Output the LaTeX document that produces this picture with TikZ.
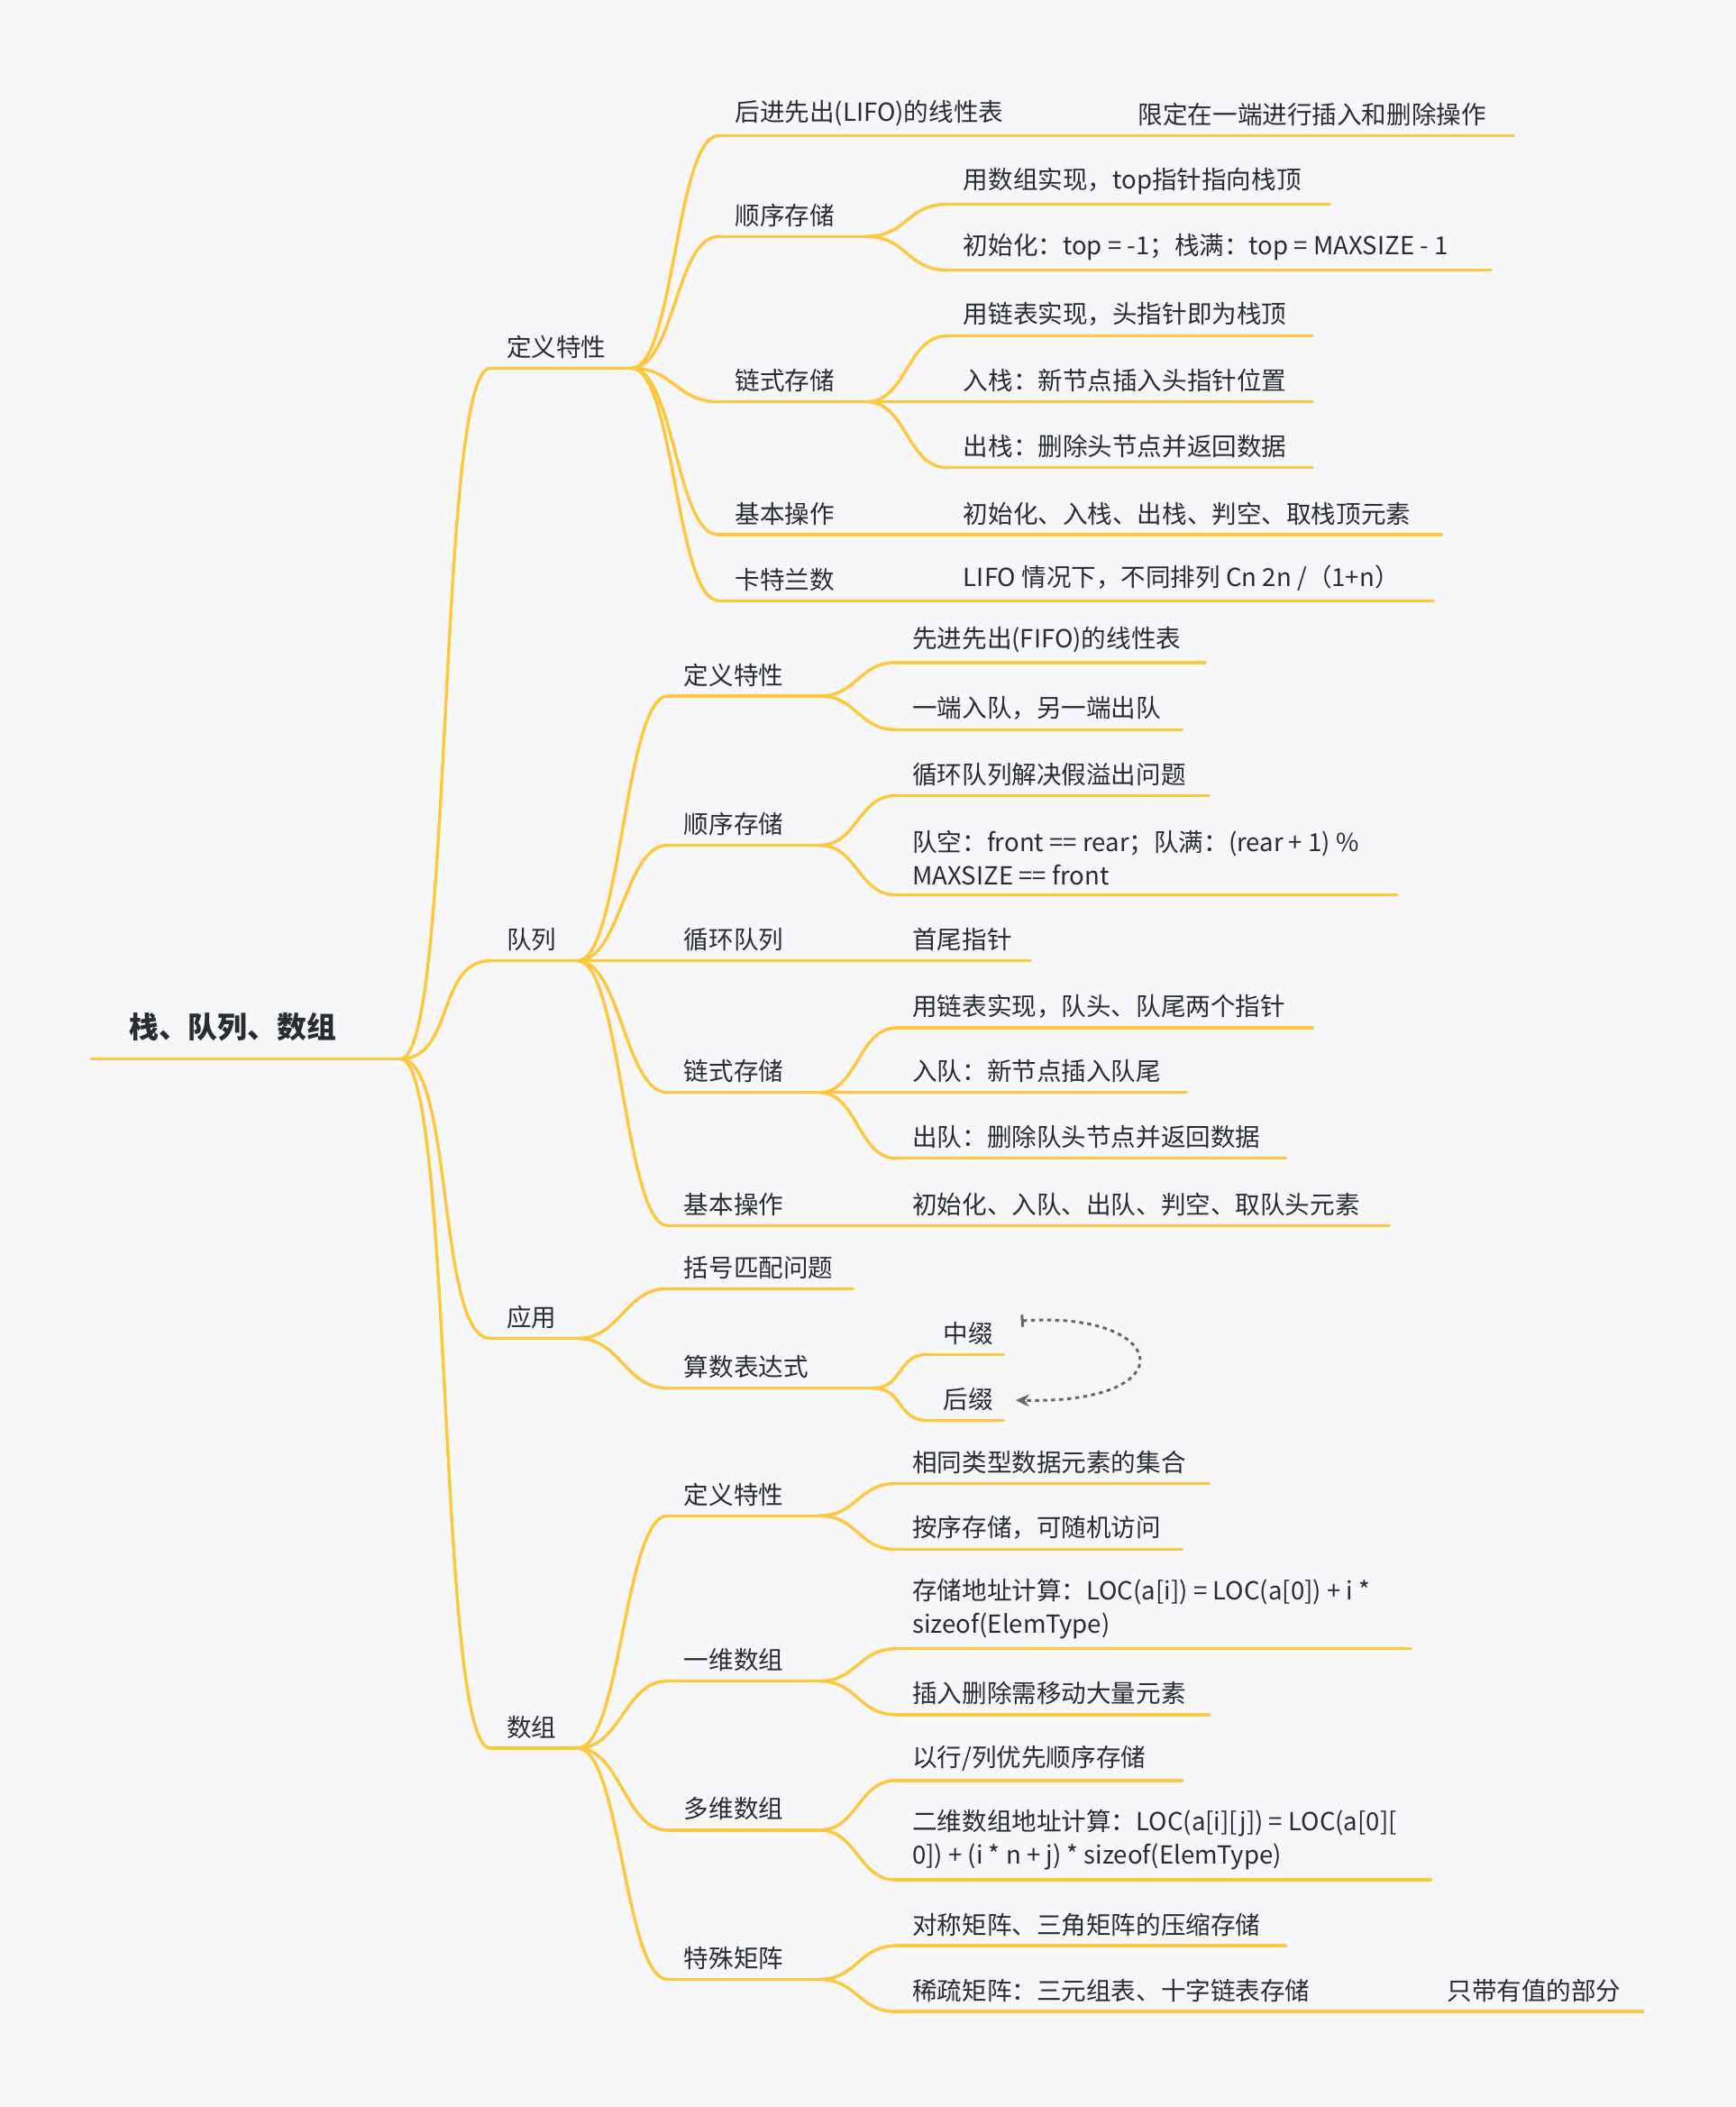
\documentclass[tikz,border=0pt]{standalone}
\usepackage{fontspec}
\setmainfont{Noto Sans CJK SC}
\usetikzlibrary{arrows.meta}
\definecolor{bg}{RGB}{247,247,249}
\definecolor{linec}{RGB}{255,199,60}
\definecolor{txtc}{RGB}{40,44,52}
\tikzset{ln/.style={draw=linec,line width=2.3pt,line cap=round},
  txt/.style={inner sep=0pt,text=txtc,font=\fontsize{18.5}{25}\selectfont,align=left}}
\newcommand\leaf[5]{%
  \coordinate (#1-s) at (#2,#4); \coordinate (#1-e) at (#3,#4);
  \draw[ln] (#1-s)--(#1-e);
  \node[txt,anchor=south west] (#1) at (#2+12,#4-7) {#5};}
\newcommand\con[3]{\draw[ln] (#1-e) .. controls +(#3,0) and +(-#3,0) .. (#2-s);}
\begin{document}
\begin{tikzpicture}[x=1pt,y=-1pt]
\fill[bg] (0,0) rectangle (1292,1568);
\useasboundingbox (0,0) rectangle (1292,1568);
% root
\coordinate (r-s) at (68,788); \coordinate (r-e) at (298,788);
\draw[ln] (r-s)--(r-e);
\node[txt,anchor=south west,font=\fontsize{22}{26}\selectfont\bfseries] (r) at (96,775) {栈、队列、数组};
% level 1
\leaf{a}{365}{470}{274}{定义特性}
\leaf{b}{365}{430}{715}{队列}
\leaf{c}{365}{430}{996}{应用}
\leaf{d}{365}{430}{1301}{数组}
\foreach \n in {a,b,c,d}{\con{r}{\n}{40}}
% stack
\leaf{a1}{535}{835}{101}{后进先出(LIFO)的线性表}
\leaf{a1x}{835}{1127}{101}{限定在一端进行插入和删除操作}
\leaf{a2}{535}{645}{176}{顺序存储}
\leaf{a21}{705}{990}{152}{用数组实现，top指针指向栈顶}
\leaf{a22}{705}{1110}{201}{初始化：top = -1；栈满：top = MAXSIZE - 1}
\leaf{a3}{535}{645}{299}{链式存储}
\leaf{a31}{705}{977}{250}{用链表实现，头指针即为栈顶}
\leaf{a32}{705}{977}{299}{入栈：新节点插入头指针位置}
\leaf{a33}{705}{977}{348}{出栈：删除头节点并返回数据}
\leaf{a4}{535}{705}{398}{基本操作}
\leaf{a41}{705}{1073}{398}{初始化、入栈、出栈、判空、取栈顶元素}
\leaf{a5}{535}{705}{447}{卡特兰数}
\leaf{a51}{705}{1067}{447}{LIFO 情况下，不同排列 Cn 2n /（1+n）}
\foreach \n in {a1,a2,a3,a4,a5}{\con{a}{\n}{32}}
\con{a2}{a21}{30}\con{a2}{a22}{30}
\con{a3}{a31}{30}\con{a3}{a32}{30}\con{a3}{a33}{30}
% queue
\leaf{b1}{497}{610}{518}{定义特性}
\leaf{b11}{667}{897}{493}{先进先出(FIFO)的线性表}
\leaf{b12}{667}{880}{543}{一端入队，另一端出队}
\leaf{b2}{497}{610}{629}{顺序存储}
\leaf{b21}{667}{900}{592}{循环队列解决假溢出问题}
\leaf{b22}{667}{1040}{666}{队空：front == rear；队满：(rear + 1) \%\\MAXSIZE == front}
\leaf{b3}{497}{667}{715}{循环队列}
\leaf{b31}{667}{767}{715}{首尾指针}
\leaf{b4}{497}{610}{813}{链式存储}
\leaf{b41}{667}{977}{765}{用链表实现，队头、队尾两个指针}
\leaf{b42}{667}{883}{813}{入队：新节点插入队尾}
\leaf{b43}{667}{957}{862}{出队：删除队头节点并返回数据}
\leaf{b5}{497}{667}{912}{基本操作}
\leaf{b51}{667}{1034}{912}{初始化、入队、出队、判空、取队头元素}
\foreach \n in {b1,b2,b3,b4,b5}{\con{b}{\n}{32}}
\con{b1}{b11}{28}\con{b1}{b12}{28}
\con{b2}{b21}{28}\con{b2}{b22}{28}
\con{b4}{b41}{28}\con{b4}{b42}{28}\con{b4}{b43}{28}
% application
\leaf{c1}{497}{635}{959}{括号匹配问题}
\leaf{c2}{497}{650}{1033}{算数表达式}
\leaf{c21}{690}{747}{1008}{中缀}
\leaf{c22}{690}{747}{1057}{后缀}
\con{c}{c1}{32}\con{c}{c2}{32}
\con{c2}{c21}{22}\con{c2}{c22}{22}
\coordinate (ar1) at (760,983); \coordinate (ar2) at (756,1042);
\draw[gray!80!black,line width=2pt,dash pattern=on 3pt off 3pt,{Bar[width=9pt]}-{Stealth[length=10pt,width=9pt]}]
  (ar1) .. controls (870,975) and (885,1045) .. (ar2);
% array
\leaf{d1}{497}{610}{1128}{定义特性}
\leaf{d11}{667}{900}{1104}{相同类型数据元素的集合}
\leaf{d12}{667}{880}{1153}{按序存储，可随机访问}
\leaf{d2}{497}{610}{1251}{一维数组}
\leaf{d21}{667}{1050}{1227}{存储地址计算：LOC(a[i]) = LOC(a[0]) + i *\\sizeof(ElemType)}
\leaf{d22}{667}{900}{1276}{插入删除需移动大量元素}
\leaf{d3}{497}{610}{1362}{多维数组}
\leaf{d31}{667}{880}{1325}{以行/列优先顺序存储}
\leaf{d32}{667}{1065}{1399}{二维数组地址计算：LOC(a[i][j]) = LOC(a[0][\\0]) + (i * n + j) * sizeof(ElemType)}
\leaf{d4}{497}{610}{1473}{特殊矩阵}
\leaf{d41}{667}{957}{1448}{对称矩阵、三角矩阵的压缩存储}
\leaf{d42}{667}{1065}{1497}{稀疏矩阵：三元组表、十字链表存储}
\leaf{d42x}{1065}{1223}{1497}{只带有值的部分}
\foreach \n in {d1,d2,d3,d4}{\con{d}{\n}{32}}
\con{d1}{d11}{28}\con{d1}{d12}{28}
\con{d2}{d21}{28}\con{d2}{d22}{28}
\con{d3}{d31}{28}\con{d3}{d32}{28}
\con{d4}{d41}{28}\con{d4}{d42}{28}
\end{tikzpicture}
\end{document}
